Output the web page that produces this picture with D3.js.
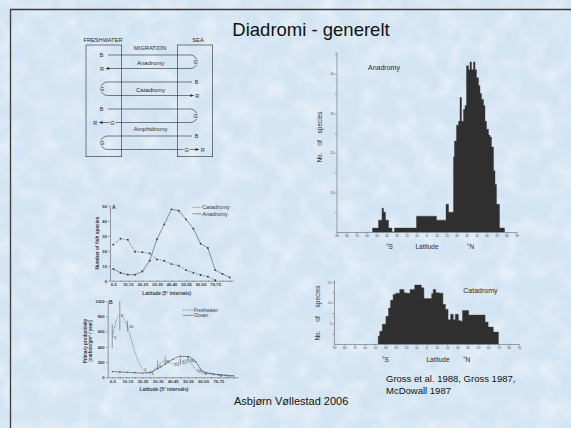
<!DOCTYPE html>
<html>
<head>
<meta charset="utf-8">
<title>Diadromi - generelt</title>
<script src="https://cdn.jsdelivr.net/npm/d3@7/dist/d3.min.js"></script>
<style>
  body { margin: 0; background: #d3e4f3; }
  svg { display: block; font-family: "Liberation Sans", Arial, sans-serif; }
</style>
</head>
<body>
<svg id="slide" width="571" height="428"></svg>
<script>
"use strict";

//// data
// anadromy histogram: band edges (degrees, south negative) and species per band
const anaEdges = [-54, -48, -44.5, -43, -41, -38, -34.5, -32, -10, 10, 19.5, 22, 27, 28, 30, 32, 33.5, 35, 37, 38.5, 40, 42, 43.5, 45, 47, 48.5, 50, 52, 53.5, 55, 57, 58.5, 60, 62, 63.5, 65, 67, 68.5, 70, 73, 78];
const anaCounts = [1, 3, 6, 5, 3, 1, 0, 1, 4, 3, 7, 5, 19, 23, 27, 28, 34, 28, 31, 32, 42, 41, 43, 41, 43, 41, 39, 37, 35, 33.5, 32, 28, 26, 24.5, 24, 21.5, 15.5, 12, 7, 1];
// catadromy histogram
const catEdges = [-47, -45.5, -43, -39.5, -37, -35, -32.5, -30, -26, -22, -19.5, -16, -11.5, -8, -5, -2.5, 0, 5, 6.5, 9, 12.5, 16, 18.5, 21, 23.5, 26, 28, 31, 33, 35, 41, 57, 60, 65, 70];
const catCounts = [1.9, 3.1, 4.8, 6.7, 8.7, 10.6, 12, 12.3, 13.2, 12.4, 12.3, 13.2, 14.3, 14.3, 13.6, 11, 11, 12.2, 13.2, 12.4, 12.3, 9.6, 8.4, 5.9, 7.2, 5.9, 7.2, 5.7, 5.5, 8.1, 7, 5.3, 4.1, 2.9];
const latTicks = [-90, -80, -70, -60, -50, -40, -30, -20, -10, 0, 10, 20, 30, 40, 50, 60, 70, 80, 90];

// panel A / B: 5 degree latitude bands
const latBands = ["0-5", "5-10", "10-15", "15-20", "20-25", "25-30", "30-35", "35-40", "40-45", "45-50", "50-55", "55-60", "60-65", "65-70", "70-75", "75-80", "80-85"];
const bandTickLabels = ["0-5", "10-15", "20-25", "30-35", "40-45", "50-55", "60-65", "70-75"];
const catadromySpecies = [24, 28, 27.3, 19.3, 19, 18.2, 14.2, 13.3, 11.1, 10, 7.1, 5.3, 3.8, 2.7, 0.3];
const anadromySpecies = [7.8, 5.3, 4, 4, 6.2, 13.3, 27.6, 37.6, 47.6, 46.7, 40.9, 34.7, 24.7, 21.8, 7.1, 4.5, 2.2];
const freshwaterProd = [530, 820, 670, 330, 110, 55, 150, 215, 175, 205, 230, 100, 50, 45, 30, 20, 12];
const freshwaterLow = [380, 620, 600, null, null, null, 100, 170, null, 160, 190, null, null, null, null, null, null];
const freshwaterHigh = [690, 1000, 740, null, null, null, 220, 270, null, 250, 280, null, null, null, null, null, null];
const freshwaterN = ["3", "2", "10", "", "1", "1", "5", "8", "20", "12", "26", "15", "8", "7", "8", "2", ""];
const oceanProd = [75, 70, 65, 60, 55, 65, 115, 175, 235, 275, 270, 205, 75, 50, 35, 28, 20];

//// slide
const svg = d3.select("#slide");
const width = +svg.attr("width"), height = +svg.attr("height");
const ink = "#2b2b2b";
const paper = "#d3e4f3";

const defs = svg.append("defs");
const paperFilter = defs.append("filter").attr("id", "paper")
    .attr("x", 0).attr("y", 0).attr("width", "100%").attr("height", "100%");
paperFilter.append("feTurbulence").attr("type", "fractalNoise")
    .attr("baseFrequency", "0.05").attr("numOctaves", 2).attr("seed", 7);
paperFilter.append("feColorMatrix").attr("type", "matrix")
    .attr("values", "0 0 0 0 1  0 0 0 0 1  0 0 0 0 1  1.6 0 0 0 -0.62");

defs.append("marker").attr("id", "arrow")
    .attr("viewBox", "0 0 6 6").attr("refX", 5.5).attr("refY", 3)
    .attr("markerUnits", "userSpaceOnUse")
    .attr("markerWidth", 4.5).attr("markerHeight", 3.5)
    .attr("orient", "auto")
    .append("path").attr("d", "M0,0.6L6,3L0,5.4Z").attr("fill", ink);

svg.append("rect").attr("width", width).attr("height", height).attr("fill", paper);
svg.append("rect").attr("width", width).attr("height", height)
    .attr("filter", "url(#paper)").attr("opacity", 0.55);

// slide frame (top and left edges)
svg.append("path")
    .attr("d", "M10.5," + height + "V9.5H" + width)
    .attr("fill", "none").attr("stroke", "#3a3a3a").attr("stroke-width", 1.3);

svg.append("text")
    .attr("x", 311).attr("y", 36)
    .attr("text-anchor", "middle")
    .attr("font-size", 18.5).attr("fill", "#111")
    .text("Diadromi - generelt");

svg.append("text")
    .attr("x", 386).attr("y", 381.7)
    .attr("font-size", 9.5).attr("fill", "#111")
    .text("Gross et al. 1988, Gross 1987,");
svg.append("text")
    .attr("x", 386).attr("y", 393.5)
    .attr("font-size", 9.5).attr("fill", "#111")
    .text("McDowall 1987");

svg.append("text")
    .attr("x", 234).attr("y", 405)
    .attr("font-size", 11).attr("fill", "#111")
    .text("Asbjørn Vøllestad 2006");

//// migration diagram
drawMigration();

//// latitude histograms
drawHistogram({
    edges: anaEdges, counts: anaCounts,
    xRange: [336.5, 516.5], yRange: [232, 52], yMax: 45.5,
    yTicks: [5, 10, 15, 20, 25, 30, 35, 40, 45], yLabels: [10, 20, 30, 40],
    title: "Anadromy", titleX: 368, titleY: 70,
    yTitleX: 321.5, yTitleY: 137, yTitleSpacing: 5,
    sX: 386, latX: 427, nX: 467, axisTitleY: 248.5
});
drawHistogram({
    edges: catEdges, counts: catCounts,
    xRange: [334, 519], yRange: [344, 280], yMax: 15.5,
    yTicks: [2.5, 5, 7.5, 10, 12.5, 15], yLabels: [5, 10, 15],
    title: "Catadromy", titleX: 463.3, titleY: 293,
    yTitleX: 320, yTitleY: 313, yTitleSpacing: 7,
    sX: 382, latX: 438, nX: 463, axisTitleY: 361.5
});

//// panel A: number of fish species
drawPanelA();
//// panel B: primary productivity
drawPanelB();

function drawMigration() {
    const g = svg.append("g").attr("fill", "none").attr("stroke", ink).attr("stroke-width", 0.6);
    const lineY = d3.scaleLinear().domain([0, 7]).range([55, 149.5]);
    const r = (lineY(1) - lineY(0)) / 2;
    const fresh = { x0: 86, x1: 121.7 }, sea = { x0: 177.3, x1: 212.7 };
    const leftStart = 108, rightStart = 192, leftTurn = 107.5, rightTurn = 190.5;
    const top = 45, bottom = 156.7;

    g.append("rect").attr("x", fresh.x0).attr("y", top)
        .attr("width", fresh.x1 - fresh.x0).attr("height", bottom - top);
    g.append("rect").attr("x", sea.x0).attr("y", top)
        .attr("width", sea.x1 - sea.x0).attr("height", bottom - top);

    const loops = [
        { start: "fresh", row: 0, end: 106, grow: false },
        { start: "sea", row: 1, end: 193.5, grow: false },
        { start: "fresh", row: 2, end: 115.5, grow: true },
        { start: "sea", row: 3, end: 183.5, grow: true }
    ];

    const labels = svg.append("g")
        .attr("fill", ink).attr("font-size", 5.5)
        .attr("text-anchor", "middle");

    loops.forEach(function (l) {
        const y0 = lineY(l.row * 2), y1 = lineY(l.row * 2 + 1);
        const fromFresh = l.start === "fresh";
        const xs = fromFresh ? leftStart : rightStart;
        const xt = fromFresh ? rightTurn : leftTurn;
        const sweep = fromFresh ? 1 : 0;
        const path = g.append("path")
            .attr("d", "M" + xs + "," + y0 + "H" + xt +
                "A" + r + "," + r + " 0 0 " + sweep + " " + xt + "," + y1 +
                "H" + l.end);
        if (!l.grow) path.attr("marker-end", "url(#arrow)");

        const bx = fromFresh ? 101.7 : 196.7;
        const gx = fromFresh ? xt + r : xt - r;
        labels.append("text").attr("x", bx).attr("y", y0 + 2).text("B");
        labels.append("text").attr("x", gx + (fromFresh ? -1.5 : 1.5)).attr("y", (y0 + y1) / 2 + 2)
            .attr("stroke", paper).attr("stroke-width", 1.6).attr("paint-order", "stroke")
            .text("G");
        if (l.grow) {
            const gEnd = fromFresh ? 112.3 : 186.7;
            const rx = fromFresh ? 95.3 : 202.7;
            labels.append("text").attr("x", gEnd).attr("y", y1 + 2).text("G");
            g.append("path")
                .attr("d", "M" + (fromFresh ? 109.5 : 189.5) + "," + y1 + "H" + (fromFresh ? 99.3 : 198.8))
                .attr("marker-end", "url(#arrow)");
            labels.append("text").attr("x", rx).attr("y", y1 + 2).text("R");
        } else {
            labels.append("text").attr("x", fromFresh ? 102 : 197.2).attr("y", y1 + 2).text("R");
        }
    });

    const names = [
        { text: "Anadromy", at: 0.5, dy: 3 },
        { text: "Catadromy", at: 2.5, dy: 3 },
        { text: "Amphidromy", at: 5.5, dy: 2.2 }
    ];
    labels.selectAll(".mig-name").data(names).enter().append("text")
        .attr("class", "mig-name")
        .attr("x", 150.7).attr("y", d => lineY(d.at) + d.dy)
        .attr("font-size", 6)
        .text(d => d.text);

    labels.append("text").attr("x", 103).attr("y", 42).attr("font-size", 5.7).text("FRESHWATER");
    labels.append("text").attr("x", 198).attr("y", 42).attr("font-size", 5.7).text("SEA");
    labels.append("text").attr("x", 150).attr("y", 50).attr("font-size", 5.8).text("MIGRATION");
}

function drawHistogram(cfg) {
    const g = svg.append("g");
    const x = d3.scaleLinear().domain([-90, 90]).range(cfg.xRange);
    const y = d3.scaleLinear().domain([0, cfg.yMax]).range(cfg.yRange);
    const pts = cfg.edges.map(function (e, i) {
        return { lat: e, n: i < cfg.counts.length ? cfg.counts[i] : 0 };
    });

    g.append("path").datum(pts)
        .attr("d", d3.area()
            .x(d => x(d.lat)).y0(y(0)).y1(d => y(d.n))
            .curve(d3.curveStepAfter))
        .attr("fill", "#2f2f2f").attr("stroke", "#3a3a3a").attr("stroke-width", 0.4);

    const xAxis = g.append("g")
        .attr("transform", "translate(0," + y(0) + ")")
        .call(d3.axisBottom(x).tickValues(latTicks).tickSize(1.5).tickSizeOuter(0)
            .tickPadding(0.8).tickFormat(d => Math.abs(d)));
    const yAxis = g.append("g")
        .attr("transform", "translate(" + x(-90) + ",0)")
        .call(d3.axisLeft(y).tickValues(cfg.yTicks).tickSize(1.5).tickSizeOuter(0)
            .tickPadding(1).tickFormat(d => cfg.yLabels.includes(d) ? d : ""));
    [xAxis, yAxis].forEach(function (a) {
        a.attr("font-size", 3.3).attr("font-family", null);
        a.selectAll("path, line").attr("stroke", "#6a6a6a").attr("stroke-width", 0.6);
        a.selectAll("text").attr("fill", "#555");
    });

    g.append("text").attr("x", cfg.titleX).attr("y", cfg.titleY)
        .attr("font-size", 7).attr("fill", ink).text(cfg.title);
    g.append("text")
        .attr("transform", "translate(" + cfg.yTitleX + "," + cfg.yTitleY + ") rotate(-90)")
        .attr("text-anchor", "middle").attr("font-size", 6.5).attr("fill", ink)
        .attr("word-spacing", cfg.yTitleSpacing)
        .text("No. of species");
    g.append("text").attr("x", cfg.sX).attr("y", cfg.axisTitleY)
        .attr("font-size", 6.5).attr("fill", ink).text("°S");
    g.append("text").attr("x", cfg.latX).attr("y", cfg.axisTitleY)
        .attr("text-anchor", "middle").attr("font-size", 6.5).attr("fill", ink).text("Latitude");
    g.append("text").attr("x", cfg.nX).attr("y", cfg.axisTitleY)
        .attr("font-size", 6.5).attr("fill", ink).text("°N");
}

function styleSmallAxis(a) {
    a.attr("font-size", 4.2).attr("font-family", null).attr("font-weight", "bold");
    a.selectAll("path, line").attr("stroke", "#444").attr("stroke-width", 0.5);
    a.selectAll("text").attr("fill", "#3a3a3a");
}

function drawPanelA() {
    const g = svg.append("g");
    const x = d3.scalePoint().domain(latBands).range([110, 233]).padding(0.45);
    const y = d3.scaleLinear().domain([0, 50]).range([280.7, 205.7]);

    styleSmallAxis(g.append("g").attr("transform", "translate(0," + y(0) + ")")
        .call(d3.axisBottom(x).tickSize(1.2).tickSizeOuter(0).tickPadding(1.5)
            .tickFormat(d => bandTickLabels.includes(d) ? d : "")));
    styleSmallAxis(g.append("g").attr("transform", "translate(110,0)")
        .call(d3.axisLeft(y).tickValues([0, 10, 20, 30, 40, 50]).tickSize(1.5)
            .tickSizeOuter(0).tickPadding(1.5).tickFormat(d3.format("d"))));

    const line = d3.line().x((d, i) => x(latBands[i])).y(d => y(d));
    g.append("path").datum(catadromySpecies).attr("d", line)
        .attr("fill", "none").attr("stroke", "#444").attr("stroke-width", 0.55)
        .attr("stroke-dasharray", "1,0.7");
    g.append("path").datum(anadromySpecies).attr("d", line)
        .attr("fill", "none").attr("stroke", "#444").attr("stroke-width", 0.55);
    [catadromySpecies, anadromySpecies].forEach(function (series) {
        g.append("g").selectAll("circle").data(series).enter().append("circle")
            .attr("cx", (d, i) => x(latBands[i])).attr("cy", d => y(d))
            .attr("r", 0.9).attr("fill", "#333");
    });

    const legend = [{ name: "Catadromy", dash: "1,0.7", y: 207.3 }, { name: "Anadromy", dash: null, y: 213.8 }];
    legend.forEach(function (l) {
        g.append("line").attr("x1", 192.5).attr("x2", 201.5).attr("y1", l.y).attr("y2", l.y)
            .attr("stroke", "#444").attr("stroke-width", 0.55).attr("stroke-dasharray", l.dash);
        g.append("text").attr("x", 202.3).attr("y", l.y + 1.8)
            .attr("font-size", 5.6).attr("fill", "#3a3a3a").text(l.name);
    });

    g.append("text").attr("x", 112).attr("y", 208.5)
        .attr("font-size", 5).attr("font-weight", "bold").attr("fill", "#333").text("A");
    g.append("text")
        .attr("transform", "translate(99,243) rotate(-90)")
        .attr("text-anchor", "middle").attr("font-size", 4.8).attr("font-weight", "bold")
        .attr("fill", "#3a3a3a").text("Number of fish species");
    g.append("text").attr("x", 166.7).attr("y", 294.5)
        .attr("text-anchor", "middle").attr("font-size", 4.8).attr("font-weight", "bold")
        .attr("fill", "#3a3a3a").text("Latitude (5° intervals)");
}

function drawPanelB() {
    const g = svg.append("g");
    const x = d3.scalePoint().domain(latBands).range([107.7, 238]).padding(0.6);
    const y = d3.scaleLinear().domain([0, 1000]).range([377.3, 301]);

    styleSmallAxis(g.append("g").attr("transform", "translate(0," + y(0) + ")")
        .call(d3.axisBottom(x).tickSize(1.2).tickSizeOuter(0).tickPadding(1.5)
            .tickFormat(d => bandTickLabels.includes(d) ? d : "")));
    styleSmallAxis(g.append("g").attr("transform", "translate(107.7,0)")
        .call(d3.axisLeft(y).tickValues([0, 200, 400, 600, 800, 1000]).tickSize(1.5)
            .tickSizeOuter(0).tickPadding(1.5).tickFormat(d3.format("d"))));

    const line = d3.line().x((d, i) => x(latBands[i])).y(d => y(d)).curve(d3.curveMonotoneX);
    g.append("path").datum(freshwaterProd).attr("d", line)
        .attr("fill", "none").attr("stroke", "#444").attr("stroke-width", 0.55)
        .attr("stroke-dasharray", "1,0.8");
    g.append("path").datum(oceanProd).attr("d", line)
        .attr("fill", "none").attr("stroke", "#444").attr("stroke-width", 0.6);

    const bars = freshwaterProd.map((d, i) => ({ i: i, lo: freshwaterLow[i], hi: freshwaterHigh[i] }))
        .filter(d => d.lo !== null);
    g.append("g").selectAll("line").data(bars).enter().append("line")
        .attr("x1", d => x(latBands[d.i])).attr("x2", d => x(latBands[d.i]))
        .attr("y1", d => y(d.lo)).attr("y2", d => y(d.hi))
        .attr("stroke", "#444").attr("stroke-width", 0.5);
    g.append("g").selectAll("circle").data(oceanProd).enter().append("circle")
        .attr("cx", (d, i) => x(latBands[i])).attr("cy", d => y(d))
        .attr("r", 0.6).attr("fill", "#333");
    g.append("g").selectAll("text").data(freshwaterN).enter().append("text")
        .attr("x", (d, i) => x(latBands[i]) + 1.5).attr("y", (d, i) => y(freshwaterProd[i]) + 2)
        .attr("font-size", 4.2).attr("fill", "#3a3a3a").text(d => d);

    const legend = [{ name: "Freshwater", dash: "1,0.8", y: 310 }, { name: "Ocean", dash: null, y: 315.3 }];
    legend.forEach(function (l) {
        g.append("line").attr("x1", 183).attr("x2", 193).attr("y1", l.y).attr("y2", l.y)
            .attr("stroke", "#444").attr("stroke-width", 0.55).attr("stroke-dasharray", l.dash);
        g.append("text").attr("x", 194).attr("y", l.y + 1.6)
            .attr("font-size", 4.8).attr("fill", "#3a3a3a").text(l.name);
    });

    g.append("text").attr("x", 109).attr("y", 303.5)
        .attr("font-size", 5).attr("font-weight", "bold").attr("fill", "#333").text("B");
    g.append("text")
        .attr("transform", "translate(86.5,341) rotate(-90)")
        .attr("text-anchor", "middle").attr("font-size", 4.6).attr("font-weight", "bold")
        .attr("fill", "#3a3a3a").text("Primary productivity");
    g.append("text")
        .attr("transform", "translate(91.5,341) rotate(-90)")
        .attr("text-anchor", "middle").attr("font-size", 4.6).attr("font-weight", "bold")
        .attr("fill", "#3a3a3a").text("(carbon/gm² / year)");
    g.append("text").attr("x", 164).attr("y", 391)
        .attr("text-anchor", "middle").attr("font-size", 4.8).attr("font-weight", "bold")
        .attr("fill", "#3a3a3a").text("Latitude (5° intervals)");
}
</script>
</body>
</html>
